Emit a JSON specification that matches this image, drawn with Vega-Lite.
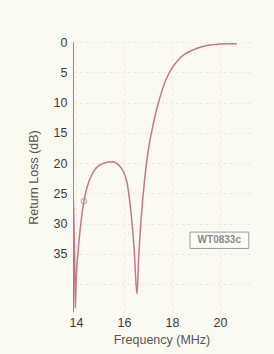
{
  "$schema": "https://vega.github.io/schema/vega-lite/v6.json",
  "autosize": "none",
  "width": 177,
  "height": 270,
  "padding": {"left": 73, "top": 42, "right": 24, "bottom": 42},
  "background": "#fbfaf1",
  "config": {
    "view": {"stroke": null},
    "font": "Liberation Sans",
    "axis": {"labelColor": "#3a3a3a", "titleColor": "#555", "labelFontSize": 12.5, "titleFontSize": 12.5, "titleFontWeight": "normal", "gridColor": "#ebe9de", "gridDash": [3, 3], "ticks": false}
  },
  "datasets": {
    "curve": [
      {"f": 13.85, "rl": 21},
      {"f": 13.9, "rl": 27},
      {"f": 13.94, "rl": 35},
      {"f": 13.97, "rl": 44},
      {"f": 14.0, "rl": 40},
      {"f": 14.1, "rl": 34},
      {"f": 14.2, "rl": 30},
      {"f": 14.33, "rl": 26.3},
      {"f": 14.46, "rl": 24},
      {"f": 14.7, "rl": 21.6},
      {"f": 15.1, "rl": 20.1},
      {"f": 15.5, "rl": 19.8},
      {"f": 15.8, "rl": 20.4},
      {"f": 16.1, "rl": 22.8},
      {"f": 16.3, "rl": 28.5},
      {"f": 16.42, "rl": 34},
      {"f": 16.54, "rl": 41.6},
      {"f": 16.62, "rl": 35},
      {"f": 16.7, "rl": 30},
      {"f": 16.8, "rl": 25.2},
      {"f": 16.9, "rl": 21.3},
      {"f": 17.0, "rl": 18.2},
      {"f": 17.17, "rl": 14.5},
      {"f": 17.3, "rl": 12.1},
      {"f": 17.5, "rl": 9.1},
      {"f": 17.75, "rl": 6.2},
      {"f": 18.0, "rl": 4.3},
      {"f": 18.25, "rl": 3.0},
      {"f": 18.5, "rl": 2.1},
      {"f": 18.88, "rl": 1.3},
      {"f": 19.25, "rl": 0.8},
      {"f": 19.58, "rl": 0.5},
      {"f": 20.0, "rl": 0.35},
      {"f": 20.4, "rl": 0.3},
      {"f": 20.7, "rl": 0.3}
    ],
    "marker": [{"f": 14.33, "rl": 26.3}],
    "box": [{"f": 18.75, "f2": 21.2, "rl": 31.4, "rl2": 34.1}],
    "label": [{"f": 19.97, "rl": 32.75, "text": "WT0833c"}]
  },
  "encoding": {
    "x": {"field": "f", "type": "quantitative", "title": "Frequency (MHz)",
      "scale": {"domain": [13.875, 21.25], "nice": false, "zero": false},
      "axis": {"values": [14, 16, 18, 20], "domain": false, "labelPadding": 4, "titlePadding": 5, "grid": true, "labelOverlap": false}},
    "y": {"field": "rl", "type": "quantitative", "title": "Return Loss (dB)",
      "scale": {"domain": [0, 44.6], "reverse": true, "nice": false},
      "axis": {"values": [0, 5, 10, 15, 20, 25, 30, 35, 40], "labelExpr": "datum.value == 40 ? '' : datum.label", "labelOverlap": false, "domain": true, "domainColor": "#888", "labelPadding": 6, "titlePadding": 13, "grid": true}}
  },
  "layer": [
    {
      "data": {"name": "curve"},
      "mark": {"type": "line", "color": "#c4758f", "strokeWidth": 1.5, "interpolate": "monotone", "clip": true}
    },
    {
      "data": {"name": "marker"},
      "mark": {"type": "point", "shape": "circle", "size": 30, "stroke": "#999", "strokeWidth": 1.2, "filled": false}
    },
    {
      "data": {"name": "box"},
      "mark": {"type": "rect", "fill": "#fdfdf8", "stroke": "#999", "strokeWidth": 1},
      "encoding": {
        "x2": {"field": "f2"},
        "y2": {"field": "rl2"}
      }
    },
    {
      "data": {"name": "label"},
      "mark": {"type": "text", "fontSize": 10, "fontWeight": "bold", "color": "#888", "baseline": "middle", "align": "center"},
      "encoding": {
        "text": {"field": "text"}
      }
    }
  ]
}
